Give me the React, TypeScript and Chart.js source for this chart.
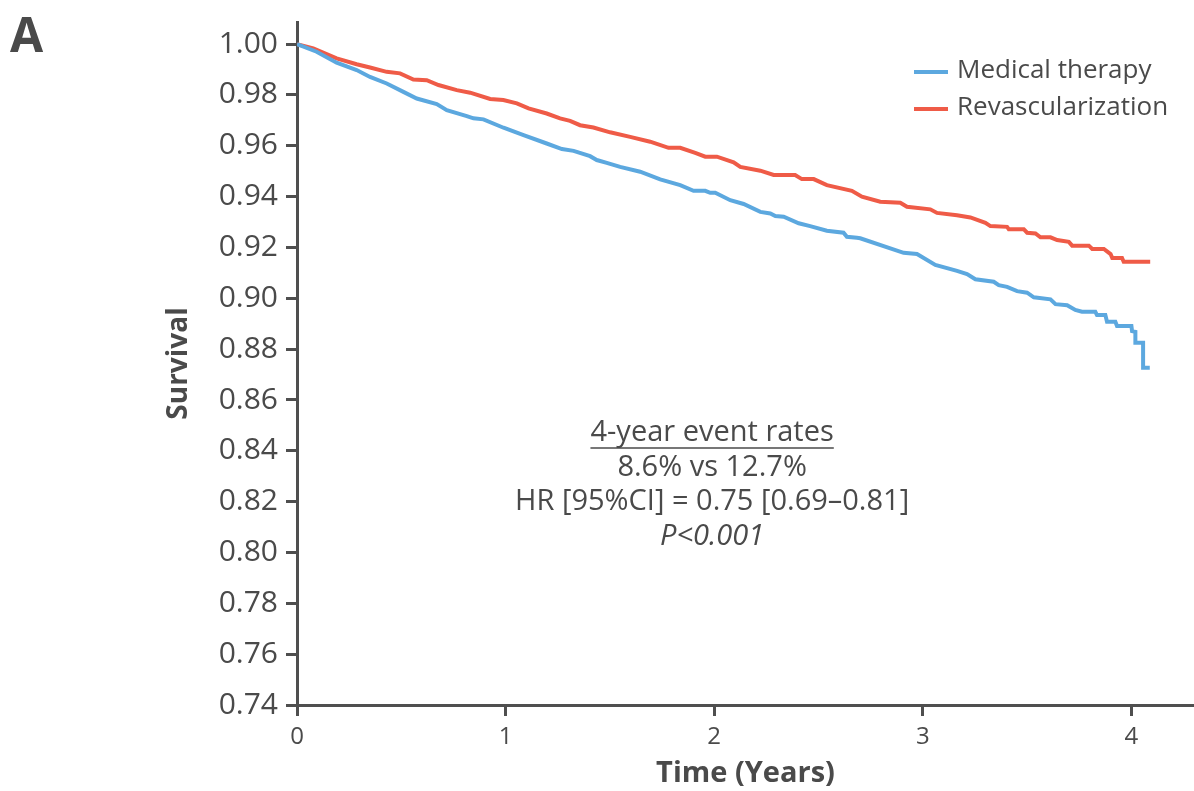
import React, { useEffect, useRef } from "react";
import { Chart, registerables } from "chart.js";

Chart.register(...registerables);

const medTimes = [0, 0.094, 0.19, 0.286, 0.35, 0.43, 0.51, 0.574, 0.67, 0.718, 0.814, 0.846, 0.894, 0.99, 1.086, 1.197, 1.27, 1.326, 1.405, 1.437, 1.485, 1.549, 1.645, 1.741, 1.837, 1.901, 1.957, 1.981, 2.005, 2.077, 2.141, 2.221, 2.269, 2.293, 2.333, 2.405, 2.46, 2.54, 2.62, 2.636, 2.684, 2.7, 2.908, 2.972, 3.06, 3.164, 3.212, 3.252, 3.34, 3.364, 3.404, 3.452, 3.5, 3.532, 3.612, 3.636, 3.692, 3.731, 3.763, 3.827, 3.835, 3.875, 3.883, 3.923, 3.931, 4.0, 4.003, 4.019, 4.019, 4.056, 4.056, 4.088];
const medSurv = [1.0, 0.997, 0.9927, 0.9898, 0.9871, 0.9845, 0.9812, 0.9786, 0.9764, 0.974, 0.9717, 0.9708, 0.9704, 0.9671, 0.9642, 0.9609, 0.9587, 0.958, 0.9559, 0.9544, 0.9533, 0.9517, 0.9498, 0.9468, 0.9445, 0.9423, 0.9423, 0.9415, 0.9415, 0.9386, 0.9371, 0.934, 0.9334, 0.9324, 0.9321, 0.9295, 0.9284, 0.9266, 0.9258, 0.9242, 0.9238, 0.9236, 0.9179, 0.9174, 0.9131, 0.9108, 0.9095, 0.9075, 0.9065, 0.9052, 0.9045, 0.9028, 0.9022, 0.9004, 0.8996, 0.8977, 0.8973, 0.8954, 0.8947, 0.8947, 0.8934, 0.8934, 0.8908, 0.8908, 0.8891, 0.8891, 0.8871, 0.8868, 0.8825, 0.8825, 0.8727, 0.8727];

const revTimes = [0, 0.078, 0.19, 0.286, 0.35, 0.43, 0.494, 0.558, 0.622, 0.678, 0.766, 0.83, 0.926, 0.989, 1.054, 1.11, 1.197, 1.261, 1.309, 1.357, 1.421, 1.501, 1.597, 1.693, 1.781, 1.837, 1.909, 1.957, 2.013, 2.093, 2.125, 2.221, 2.285, 2.388, 2.42, 2.477, 2.54, 2.66, 2.708, 2.796, 2.892, 2.924, 3.036, 3.068, 3.164, 3.228, 3.3, 3.324, 3.404, 3.412, 3.484, 3.5, 3.54, 3.564, 3.612, 3.644, 3.7, 3.716, 3.796, 3.812, 3.868, 3.9, 3.908, 3.955, 3.963, 4.09];
const revSurv = [1.0, 0.9983, 0.9944, 0.9921, 0.9908, 0.9891, 0.9885, 0.9861, 0.9858, 0.9839, 0.9819, 0.9809, 0.9784, 0.978, 0.9767, 0.9747, 0.9727, 0.9708, 0.9698, 0.9681, 0.9672, 0.9653, 0.9635, 0.9616, 0.9592, 0.9592, 0.9572, 0.9557, 0.9557, 0.9535, 0.9517, 0.9502, 0.9485, 0.9485, 0.9469, 0.9469, 0.9445, 0.9423, 0.94, 0.938, 0.9376, 0.936, 0.935, 0.9336, 0.9327, 0.9318, 0.9297, 0.9284, 0.9281, 0.9272, 0.9272, 0.9258, 0.9255, 0.924, 0.924, 0.9229, 0.9222, 0.9207, 0.9207, 0.9194, 0.9194, 0.9174, 0.9159, 0.9159, 0.9144, 0.9144];

const yTicks = [0.74, 0.76, 0.78, 0.8, 0.82, 0.84, 0.86, 0.88, 0.9, 0.92, 0.94, 0.96, 0.98, 1.0];
const xTicks = [0, 1, 2, 3, 4];

const seriesNames = ["Medical therapy", "Revascularization"];
const seriesColors = ["#5CA8DF", "#EF5B47"];
const annotationLines = ["4-year event rates", "8.6% vs 12.7%", "HR [95%CI] = 0.75 [0.69\u20130.81]", "P<0.001"];

const TEXT = "#4a4a4a";
const AXIS = "#4f4f4f";
const FONT = "'Open Sans', 'Noto Sans', sans-serif";

export default function App() {
  const ref = useRef<HTMLCanvasElement | null>(null);

  useEffect(() => {
    document.body.style.margin = "0";
    const canvas = ref.current;
    if (!canvas) return;

    const overlay = {
      id: "overlay",
      afterDraw(chart: any) {
        const ctx = chart.ctx;
        const area = chart.chartArea;
        const xs = chart.scales.x;
        const ys = chart.scales.y;
        ctx.save();
        // Panel letter
        ctx.fillStyle = TEXT;
        ctx.font = `bold 48px ${FONT}`;
        ctx.textAlign = "left";
        ctx.textBaseline = "alphabetic";
        ctx.fillText("A", 10, 52);

        // Legend
        ctx.font = `26px ${FONT}`;
        ctx.textBaseline = "middle";
        const lx = area.right - 280;
        const ly0 = ys.getPixelForValue(0.989);
        const lineH = 37;
        seriesNames.forEach((n, i) => {
          const yy = ly0 + i * lineH;
          ctx.strokeStyle = seriesColors[i];
          ctx.lineWidth = 4;
          ctx.beginPath();
          ctx.moveTo(lx, yy);
          ctx.lineTo(lx + 34, yy);
          ctx.stroke();
          ctx.fillStyle = TEXT;
          ctx.fillText(n, lx + 43, yy - 1);
        });

        // Annotation
        const cx = xs.getPixelForValue(1.99);
        const ay0 = ys.getPixelForValue(0.847);
        const step = 34.5;
        ctx.textAlign = "center";
        annotationLines.forEach((t, i) => {
          ctx.font = i === 3 ? `italic 29px ${FONT}` : `29px ${FONT}`;
          const yy = ay0 + i * step;
          ctx.fillStyle = TEXT;
          ctx.fillText(t, cx, yy);
          if (i === 0) {
            const w = ctx.measureText(t).width;
            ctx.strokeStyle = TEXT;
            ctx.lineWidth = 1.5;
            ctx.beginPath();
            ctx.moveTo(cx - w / 2, yy + 15);
            ctx.lineTo(cx + w / 2, yy + 15);
            ctx.stroke();
          }
        });
        ctx.restore();
      },
    };

    const chart = new Chart(canvas, {
      type: "line",
      data: {
        datasets: [
          {
            label: seriesNames[0],
            data: medTimes.map((t, i) => ({ x: t, y: medSurv[i] })),
            borderColor: seriesColors[0],
            backgroundColor: seriesColors[0],
            borderWidth: 4,
            pointRadius: 0,
            tension: 0,
            borderJoinStyle: "miter",
            fill: false,
          },
          {
            label: seriesNames[1],
            data: revTimes.map((t, i) => ({ x: t, y: revSurv[i] })),
            borderColor: seriesColors[1],
            backgroundColor: seriesColors[1],
            borderWidth: 4,
            pointRadius: 0,
            tension: 0,
            borderJoinStyle: "miter",
            fill: false,
          },
        ],
      },
      options: {
        animation: false,
        responsive: false,
        maintainAspectRatio: false,
        layout: { padding: { top: 22, right: 0, left: 162, bottom: 0 } },
        plugins: {
          legend: { display: false },
          tooltip: { enabled: false },
        },
        scales: {
          x: {
            type: "linear",
            min: 0,
            max: 4.3,
            afterBuildTicks: (s: any) => {
              s.ticks = xTicks.map((v) => ({ value: v }));
            },
            afterFit: (s: any) => {
              s.height = 86;
              s.paddingLeft = 0;
              s.paddingRight = 0;
            },
            border: { display: true, color: AXIS, width: 3 },
            grid: { drawOnChartArea: false, drawTicks: true, tickLength: 11, color: AXIS, lineWidth: 3 },
            ticks: {
              color: TEXT,
              font: { family: FONT, size: 24 },
              padding: 7,
              maxRotation: 0,
              callback: (v: any) => String(v),
            },
            title: {
              display: true,
              text: "Time (Years)",
              color: TEXT,
              font: { family: FONT, size: 29, weight: "bold" },
              padding: { top: 4, bottom: 0 },
            },
          },
          y: {
            type: "linear",
            min: 0.74,
            max: 1.0087,
            afterBuildTicks: (s: any) => {
              s.ticks = yTicks.map((v) => ({ value: v }));
            },
            afterFit: (s: any) => {
              s.width = 297 - 162;
              s.paddingTop = 0;
              s.paddingBottom = 0;
            },
            border: { display: true, color: AXIS, width: 3 },
            grid: { drawOnChartArea: false, drawTicks: true, tickLength: 11, color: AXIS, lineWidth: 3 },
            ticks: {
              color: TEXT,
              font: { family: FONT, size: 30 },
              padding: 8,
              callback: (v: any) => Number(v).toFixed(2),
            },
            title: {
              display: true,
              text: "Survival",
              color: TEXT,
              font: { family: FONT, size: 28, weight: "bold" },
              padding: { top: 0, bottom: 0 },
            },
          },
        },
      },
      plugins: [overlay],
    });

    return () => chart.destroy();
  }, []);

  return (
    <div style={{ position: "fixed", left: 0, top: 0, width: 1194, height: 791, background: "#fff" }}>
      <canvas ref={ref} width={1194} height={791} style={{ width: 1194, height: 791, display: "block" }} />
    </div>
  );
}
